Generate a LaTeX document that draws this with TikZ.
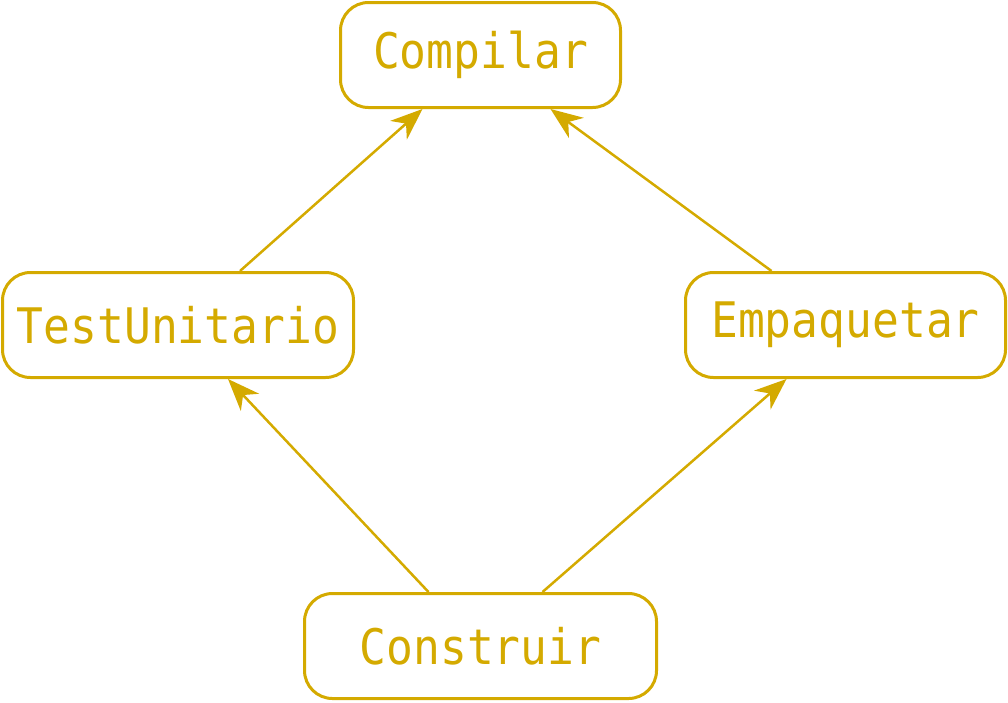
\documentclass[tikz,border=0pt]{standalone}
\usepackage{fontspec}
\newfontfamily\taskfont[FakeStretch=0.91]{DejaVu Sans Mono}
\usetikzlibrary{arrows.meta}
\definecolor{gold}{HTML}{D4AA00}
\tikzset{
  task/.style={draw=gold, line width=3pt, rounded corners=28pt, text=gold,
    minimum height=105pt, inner sep=0pt, font=\taskfont\fontsize{49}{55}\selectfont},
  dep/.style={draw=gold, line width=2.5pt, -{Stealth[length=32pt,width=25pt,inset=10pt]}}
}
\begin{document}
\begin{tikzpicture}[x=1pt,y=-1pt]
\useasboundingbox (0,0) rectangle (1008,702);

\node[task, minimum width=280pt] (compilar) at (480.5,55) {Compilar};
\node[task, minimum width=351pt] (test) at (178,325) {TestUnitario};
\node[task, minimum width=320pt] (empaq) at (845.5,325) {Empaquetar};
\node[task, minimum width=352pt] (constr) at (480.5,646) {Construir};

\draw[dep] ([xshift=62pt]test.north) -- ([xshift=-58pt]compilar.south);
\draw[dep] ([xshift=-74pt]empaq.north) -- ([xshift=70pt]compilar.south);
\draw[dep] ([xshift=-52pt]constr.north) -- ([xshift=50pt]test.south);
\draw[dep] ([xshift=62pt]constr.north) -- ([xshift=-59pt]empaq.south);
\end{tikzpicture}
\end{document}
